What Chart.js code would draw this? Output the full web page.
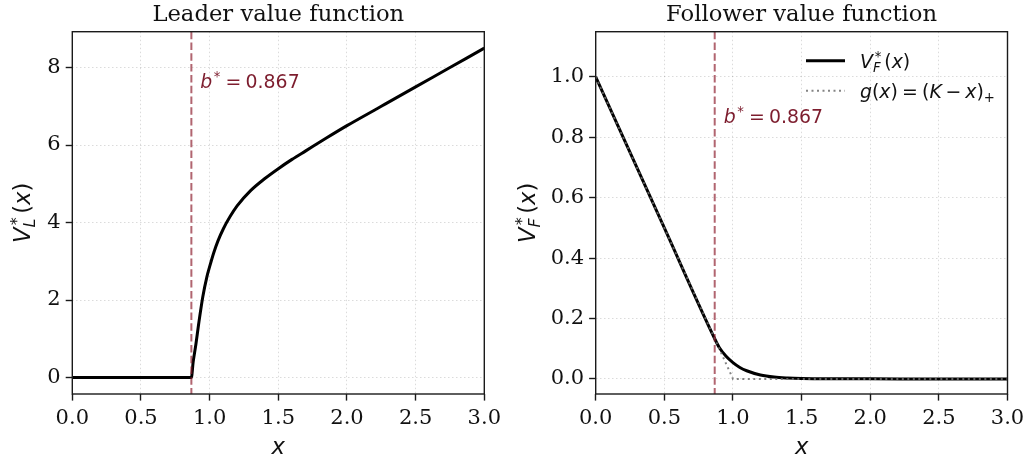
<!DOCTYPE html>
<html>
<head>
<meta charset="utf-8">
<script src="https://cdn.jsdelivr.net/npm/chart.js@4.4.1/dist/chart.umd.min.js"></script>
<style>
  html, body { margin: 0; padding: 0; background: #fff; }
  #wrap { position: relative; width: 1027px; height: 464px; }
  #wrap canvas { position: absolute; left: 0; top: 0; }
</style>
</head>
<body>
<div id="wrap">
  <canvas id="leader" width="1027" height="464"></canvas>
  <canvas id="follower" width="1027" height="464"></canvas>
</div>
<script>
// ─── Data ─────────────────────────────────────────────────────────────────────

const xTicks         = [0, 0.5, 1, 1.5, 2, 2.5, 3];
const leaderYTicks   = [0, 2, 4, 6, 8];
const followerYTicks = [0, 0.2, 0.4, 0.6, 0.8, 1.0];
const bStar          = 0.867;

// leader value function V_L*(x)
const leaderX = [0, 0.867, 0.88, 0.9,  0.92, 0.95, 0.98, 1.0,  1.03, 1.06, 1.1,  1.15, 1.2,  1.3,  1.4,  1.5,  1.6,  1.7,  1.85, 2.0, 2.25, 2.5, 2.75, 3.0];
const leaderV = [0, 0,     0.4,  0.86, 1.38, 2.08, 2.6,  2.86, 3.22, 3.52, 3.84, 4.16, 4.43, 4.83, 5.13, 5.39, 5.63, 5.85, 6.18, 6.5, 7.0,  7.5, 8.0,  8.5];

// follower value function V_F*(x)
const followerX = [0, 0.5, 0.867, 0.9,   0.95,  1.0,   1.05,  1.1,   1.2,   1.3,   1.4,   1.5,    1.7,    2.0,    2.5, 3.0];
const followerV = [1, 0.5, 0.133, 0.104, 0.075, 0.054, 0.038, 0.027, 0.013, 0.006, 0.003, 0.0015, 0.0004, 0.0001, 0,   0];

// payoff g(x) = (K - x)+
const payoffX = [0, 1, 3];
const payoffV = [1, 0, 0];

// ─── Style ────────────────────────────────────────────────────────────────────

const SERIF = '"DejaVu Serif", serif';
const SANS  = '"DejaVu Sans", sans-serif';
const BASE  = 18.9;   // legend / annotation text
const TICK  = 21;     // tick labels
const BIG   = 22.7;   // titles, axis labels
const DARKRED = '#7d1d2e';
const VLINE   = 'rgba(140, 28, 44, 0.68)';
const GREY    = 'rgba(110,110,110,0.85)';

function mfont(size, it) { return (it ? 'italic ' : '') + size + 'px ' + SANS; }

// tokens: 'text' | {i:'x'} italic | {sp: em} space | {sup, sub, subI}
function tokWidth(ctx, tk, size) {
  if (typeof tk === 'string') { ctx.font = mfont(size, false); return ctx.measureText(tk).width; }
  if (tk.i) { ctx.font = mfont(size, true); return ctx.measureText(tk.i).width; }
  if (tk.sp) return tk.sp * size;
  const s = size * 0.7;
  let w = 0;
  if (tk.sup) { ctx.font = mfont(s, false); w = Math.max(w, ctx.measureText(tk.sup).width + (tk.supDx || 0) * size); }
  if (tk.sub) { ctx.font = mfont(s, tk.subI); w = Math.max(w, ctx.measureText(tk.sub).width); }
  return w + 0.05 * size;
}

function drawMath(ctx, toks, x, y, size, color, align) {
  ctx.save();
  ctx.fillStyle = color;
  ctx.textBaseline = 'alphabetic';
  ctx.textAlign = 'left';
  let total = 0;
  toks.forEach(t => total += tokWidth(ctx, t, size));
  let cx = align === 'center' ? x - total / 2 : x;
  toks.forEach(tk => {
    const w = tokWidth(ctx, tk, size);
    if (typeof tk === 'string') { ctx.font = mfont(size, false); ctx.fillText(tk, cx, y); }
    else if (tk.i) { ctx.font = mfont(size, true); ctx.fillText(tk.i, cx, y); }
    else if (!tk.sp) {
      const s = size * 0.7;
      if (tk.sup) { ctx.font = mfont(s, false); ctx.fillText(tk.sup, cx + (tk.supDx || 0) * size, y - 0.36 * size); }
      if (tk.sub) { ctx.font = mfont(s, tk.subI); ctx.fillText(tk.sub, cx, y + 0.22 * size); }
    }
    cx += w;
  });
  ctx.restore();
}

// ─── Decorations (frame, title, labels, b*, legend) ──────────────────────────

function decor(cfg) {
  return {
    id: 'decor',
    afterDatasetsDraw(chart) {
      const { ctx, chartArea: ca, scales } = chart;
      const bx = scales.x.getPixelForValue(bStar);
      ctx.save();
      ctx.strokeStyle = VLINE;
      ctx.lineWidth = 2;
      ctx.setLineDash([7.5, 3.3]);
      ctx.beginPath();
      ctx.moveTo(bx, ca.top);
      ctx.lineTo(bx, ca.bottom);
      ctx.stroke();
      ctx.restore();
      drawMath(ctx, [{ i: 'b' }, { sup: '*', supDx: 0.08 }, { sp: 0.22 }, '=', { sp: 0.22 }, '0.867'],
        bx + 9, scales.y.getPixelForValue(cfg.labelY), BASE, DARKRED, 'left');
    },
    afterDraw(chart) {
      const { ctx, chartArea: ca } = chart;
      ctx.save();
      ctx.strokeStyle = '#1a1a1a';
      ctx.lineWidth = 1.4;
      ctx.strokeRect(ca.left, ca.top, ca.right - ca.left, ca.bottom - ca.top);

      // title
      ctx.fillStyle = '#111';
      ctx.font = BIG + 'px ' + SERIF;
      ctx.textAlign = 'center';
      ctx.textBaseline = 'alphabetic';
      ctx.fillText(cfg.title, (ca.left + ca.right) / 2, 21);

      // x label
      drawMath(ctx, [{ i: 'x' }], (ca.left + ca.right) / 2, 454, BIG, '#111', 'center');

      // y label (rotated)
      ctx.translate(cfg.yLabelX, (ca.top + ca.bottom) / 2);
      ctx.rotate(-Math.PI / 2);
      drawMath(ctx, [{ i: 'V' }, { sup: '*', sub: cfg.sub, subI: true, supDx: 0.1 }, { sp: 0.1 }, '(', { i: 'x' }, ')'],
        0, 0, BIG, '#111', 'center');
      ctx.restore();

      if (cfg.legend) {
        const x0 = ca.right - 201.5, x1 = ca.right - 162.5, tx = ca.right - 147.5;
        const r1 = ca.top + 29, r2 = ca.top + 59;
        ctx.save();
        ctx.strokeStyle = '#000';
        ctx.lineWidth = 3;
        ctx.beginPath(); ctx.moveTo(x0, r1); ctx.lineTo(x1, r1); ctx.stroke();
        ctx.strokeStyle = GREY;
        ctx.lineWidth = 2;
        ctx.setLineDash([2, 3.5]);
        ctx.beginPath(); ctx.moveTo(x0, r2); ctx.lineTo(x1, r2); ctx.stroke();
        ctx.restore();
        drawMath(ctx, [{ i: 'V' }, { sup: '*', sub: 'F', subI: true, supDx: 0.1 }, { sp: 0.1 }, '(', { i: 'x' }, ')'],
          tx, r1 + 7, BASE, '#111', 'left');
        drawMath(ctx, [{ i: 'g' }, '(', { i: 'x' }, ')', { sp: 0.22 }, '=', { sp: 0.22 }, '(', { i: 'K' }, { sp: 0.2 }, '\u2212', { sp: 0.2 }, { i: 'x' }, ')', { sub: '+' }],
          tx, r2 + 7, BASE, '#111', 'left');
      }
    }
  };
}

// ─── Chart builder ────────────────────────────────────────────────────────────

function axis(ticks, min, max, fmt, fit) {
  return {
    type: 'linear',
    min, max,
    afterBuildTicks: s => { s.ticks = ticks.map(v => ({ value: v })); },
    afterFit: s => {
      fit(s);
      // no automatic edge padding: the chart area is fixed by layout.padding
      s.paddingLeft = s.paddingRight = s.paddingTop = s.paddingBottom = 0;
    },
    ticks: {
      callback: fmt,
      font: { family: SERIF, size: TICK },
      color: '#111',
      padding: 5,
      maxRotation: 0,
      autoSkip: false,
    },
    grid: {
      color: 'rgba(0,0,0,0.14)',
      lineWidth: 1,
      drawTicks: true,
      tickLength: 6.6,
      tickColor: '#1a1a1a',
      tickWidth: 1.4,
    },
    border: { display: false, dash: [1.5, 2.5] },
  };
}

function makeChart(id, datasets, yTicks, yMin, yMax, yFmt, padLeft, padRight, cfg) {
  return new Chart(document.getElementById(id), {
    type: 'line',
    data: { datasets },
    options: {
      responsive: false,
      animation: false,
      layout: { padding: { left: padLeft, right: padRight, top: 31.7, bottom: 0 } },
      plugins: { legend: { display: false }, tooltip: { enabled: false } },
      elements: { point: { radius: 0 } },
      scales: {
        x: axis(xTicks, 0, 3, v => v.toFixed(1), s => { s.height = 70; }),
        y: axis(yTicks, yMin, yMax, yFmt, s => { s.width = 72.3; }),
      }
    },
    plugins: [decor(cfg)]
  });
}

const pts = (xs, ys) => xs.map((x, i) => ({ x, y: ys[i] }));

makeChart('leader', [{
    data: pts(leaderX, leaderV),
    borderColor: '#000',
    borderWidth: 3,
    cubicInterpolationMode: 'monotone',
    fill: false,
  }],
  leaderYTicks, -0.425, 8.925, v => String(v), 0, 1027 - 484.3,
  { title: 'Leader value function', sub: 'L', labelY: 7.47, yLabelX: 30 });

makeChart('follower', [{
    data: pts(payoffX, payoffV),
    borderColor: GREY,
    borderWidth: 2,
    borderDash: [2, 3.5],
    tension: 0,
    fill: false,
    order: 0,
  }, {
    data: pts(followerX, followerV),
    borderColor: '#000',
    borderWidth: 3,
    cubicInterpolationMode: 'monotone',
    fill: false,
    order: 1,
  }],
  followerYTicks, -0.05, 1.15, v => v.toFixed(1), 595.7 - 72.3, 1027 - 1007.5,
  { title: 'Follower value function', sub: 'F', labelY: 0.848, yLabelX: 535, legend: true });
</script>
</body>
</html>
